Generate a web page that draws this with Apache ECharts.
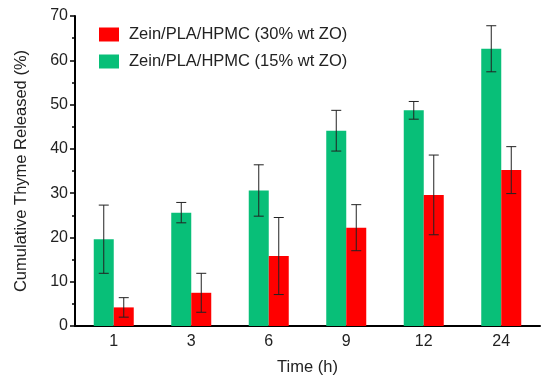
<!DOCTYPE html>
<html><head><meta charset="utf-8">
<script src="https://cdn.jsdelivr.net/npm/echarts@6/dist/echarts.min.js"></script>
<style>html,body{margin:0;padding:0;background:#fff}#c{width:554px;height:381px}</style>
</head><body><div id="c"></div>
<script>
const categories = ['1', '3', '6', '9', '12', '24'];
const seriesNames = ['Zein/PLA/HPMC (30% wt ZO)', 'Zein/PLA/HPMC (15% wt ZO)'];
const green15 = [19.6, 25.6, 30.6, 44.1, 48.7, 62.6];
const green15Err = [7.7, 2.3, 5.8, 4.6, 2.0, 5.2];
const red30 = [4.2, 7.5, 15.8, 22.2, 29.6, 35.2];
const red30Err = [2.2, 4.4, 8.7, 5.2, 9.0, 5.3];

const FONT = 'Liberation Sans, Arial, sans-serif';
const BW = 20;

function errSeries(vals, errs, offset) {
  return {
    type: 'custom',
    silent: true,
    z: 10,
    data: vals.map((v, i) => [i, v, errs[i]]),
    renderItem: function (params, api) {
      const i = api.value(0), v = api.value(1), e = api.value(2);
      const top = api.coord([i, v + e]);
      const bot = api.coord([i, v - e]);
      const x = top[0] + offset;
      const cap = 5;
      const st = { stroke: '#222', lineWidth: 1 };
      return {
        type: 'group',
        children: [
          { type: 'line', shape: { x1: x, y1: top[1], x2: x, y2: bot[1] }, style: st },
          { type: 'line', shape: { x1: x - cap, y1: top[1], x2: x + cap, y2: top[1] }, style: st },
          { type: 'line', shape: { x1: x - cap, y1: bot[1], x2: x + cap, y2: bot[1] }, style: st }
        ]
      };
    }
  };
}

const chart = echarts.init(document.getElementById('c'), null, { renderer: 'canvas' });
chart.setOption({
  animation: false,
  textStyle: { fontFamily: FONT },
  grid: { left: 75, right: 14, top: 16, bottom: 55, containLabel: false },
  legend: {
    left: 99, top: 26, orient: 'vertical', itemGap: 10, padding: 0,
    itemWidth: 20, itemHeight: 14, icon: 'rect',
    textStyle: { fontSize: 16.5, color: '#222', fontFamily: FONT, padding: [0, 0, 0, 5] },
    data: [seriesNames[0], seriesNames[1]]
  },
  xAxis: {
    type: 'category', data: categories,
    name: 'Time (h)', nameLocation: 'middle', nameGap: 33,
    nameTextStyle: { fontSize: 16.5, color: '#222', fontFamily: FONT },
    axisLine: { lineStyle: { color: '#000', width: 2 } },
    axisTick: { alignWithLabel: true, length: 5, lineStyle: { color: '#000', width: 1.5 } },
    axisLabel: { fontSize: 16, color: '#222', margin: 8 }
  },
  yAxis: {
    type: 'value', min: 0, max: 70, interval: 10,
    name: 'Cumulative Thyme Released (%)', nameLocation: 'middle', nameGap: 45, nameRotate: 90,
    nameTextStyle: { fontSize: 16.5, color: '#222', fontFamily: FONT },
    axisLine: { show: true, lineStyle: { color: '#000', width: 2 } },
    axisTick: { show: true, length: 5, lineStyle: { color: '#000', width: 1.5 } },
    minorTick: { show: true, splitNumber: 2, length: 3, lineStyle: { color: '#000', width: 1.5 } },
    splitLine: { show: false },
    axisLabel: { fontSize: 16, color: '#222', margin: 7 }
  },
  series: [
    { name: seriesNames[1], type: 'bar', data: green15, barWidth: BW, barGap: '0%',
      itemStyle: { color: '#08BF78' } },
    { name: seriesNames[0], type: 'bar', data: red30, barWidth: BW, barGap: '0%',
      itemStyle: { color: '#FF0000' } },
    errSeries(green15, green15Err, -BW / 2),
    errSeries(red30, red30Err, BW / 2)
  ]
});
</script></body></html>
